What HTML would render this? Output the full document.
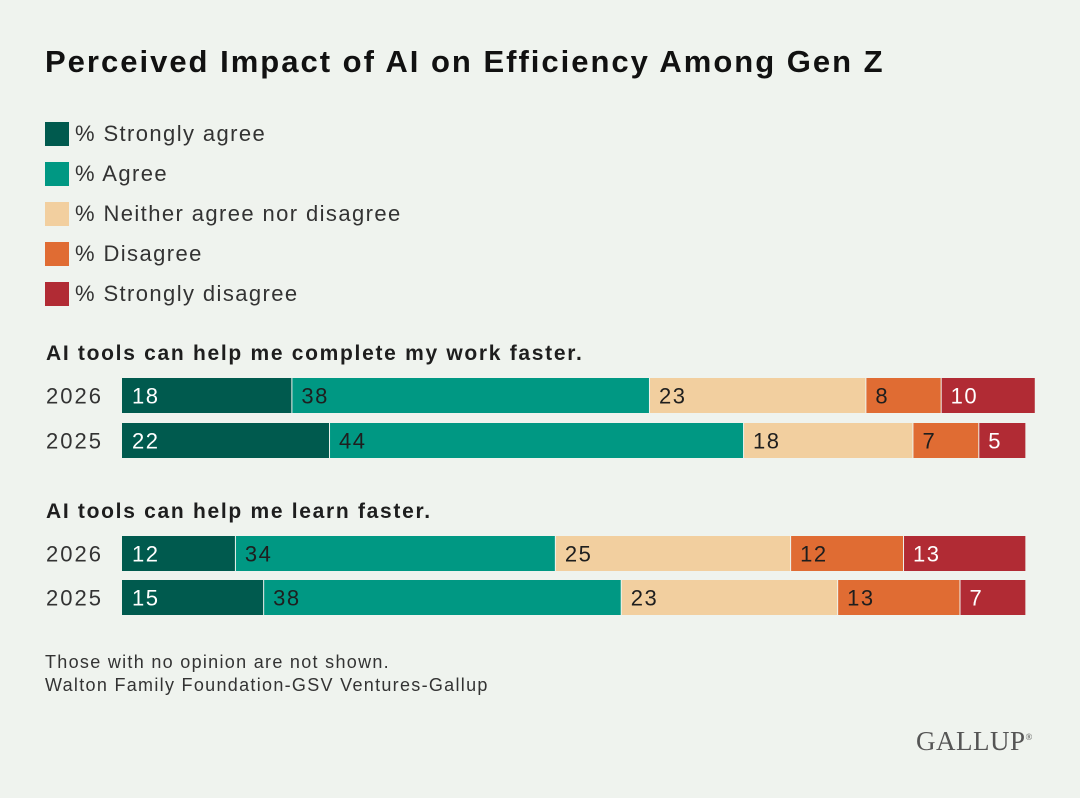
<!DOCTYPE html>
<html><head><meta charset="utf-8"><style>
body{margin:0;background:#eff3ee;font-family:"Liberation Sans",sans-serif;color:#1e1e1e}
#wrap{position:relative;width:1080px;height:798px;overflow:hidden}
.t{position:absolute;white-space:nowrap}
</style></head><body>
<div id="wrap">
<div class="t" style="left:45px;top:44px;font-size:31px;font-weight:bold;color:#111;letter-spacing:2px">Perceived Impact of AI on Efficiency Among Gen Z</div>
<div id="legend"></div>
<div class="t" style="left:46px;top:342px;font-size:21px;font-weight:bold;letter-spacing:1.7px">AI tools can help me complete my work faster.</div>
<div class="t" style="left:46px;top:500px;font-size:21px;font-weight:bold;letter-spacing:1.7px">AI tools can help me learn faster.</div>
<div class="t" style="left:45px;top:651px;font-size:18px;line-height:23px;color:#333;letter-spacing:1.3px">Those with no opinion are not shown.<br>Walton Family Foundation-GSV Ventures-Gallup</div>
<div class="t" style="left:916px;top:726px;font-size:27px;font-family:'Liberation Serif',serif;color:#555;letter-spacing:0.5px">GALLUP<sup style="font-size:9px">®</sup></div>
<svg id="svg" width="1080" height="798" style="position:absolute;left:0;top:0"></svg>
</div>
<script>
const categories=["% Strongly agree","% Agree","% Neither agree nor disagree","% Disagree","% Strongly disagree"];
const colors=["#005a4e","#009883","#f2cf9f","#e06c33","#b12b34"];
const textColors=["#fff","#1e1e1e","#1e1e1e","#1e1e1e","#fff"];
const rowLabels=["2026","2025","2026","2025"];
const work2026=[18,38,23,8,10];
const work2025=[22,44,18,7,5];
const learn2026=[12,34,25,12,13];
const learn2025=[15,38,23,13,7];
const rows=[work2026,work2025,learn2026,learn2025];
const rowY=[378,423,536,580];
const x0=122, scale=9.41, barH=35;
const xs=v=>x0+v*scale;
const NS="http://www.w3.org/2000/svg";
const svg=document.getElementById('svg');
const leg=document.getElementById('legend');
categories.forEach((c,i)=>{
  const d=document.createElement('div');
  d.className='t';d.style.left='45px';d.style.top=(121+i*40)+'px';d.style.fontSize='22px';d.style.color='#333';d.style.letterSpacing='1.4px';
  d.innerHTML='<span style="display:inline-block;width:24px;height:24px;background:'+colors[i]+';vertical-align:-5px;margin-right:6px"></span>'+c;
  
  
  leg.appendChild(d);
});
rows.forEach((r,ri)=>{
  const y=rowY[ri];
  const lab=document.createElementNS(NS,'text');
  lab.setAttribute('x',46);lab.setAttribute('y',y+barH/2+8);lab.setAttribute('font-size','22');lab.setAttribute('fill','#333');lab.setAttribute('letter-spacing','2');
  lab.textContent=rowLabels[ri];
  
  
  svg.appendChild(lab);
  let cum=0;
  r.forEach((v,i)=>{
    const rect=document.createElementNS(NS,'rect');
    rect.setAttribute('x',xs(cum)+(i?1:0));rect.setAttribute('y',y);
    rect.setAttribute('width',Math.max(0,v*scale-(i?1:0)));rect.setAttribute('height',barH);
    rect.setAttribute('fill',colors[i]);
    
    
    svg.appendChild(rect);
    const t=document.createElementNS(NS,'text');
    t.setAttribute('x',xs(cum)+10);t.setAttribute('y',y+barH/2+8);t.setAttribute('font-size','22');t.setAttribute('letter-spacing','1.5');
    t.setAttribute('fill',textColors[i]);t.textContent=v;
    
    
    svg.appendChild(t);
    cum+=v;
  });
});
</script>
</body></html>
